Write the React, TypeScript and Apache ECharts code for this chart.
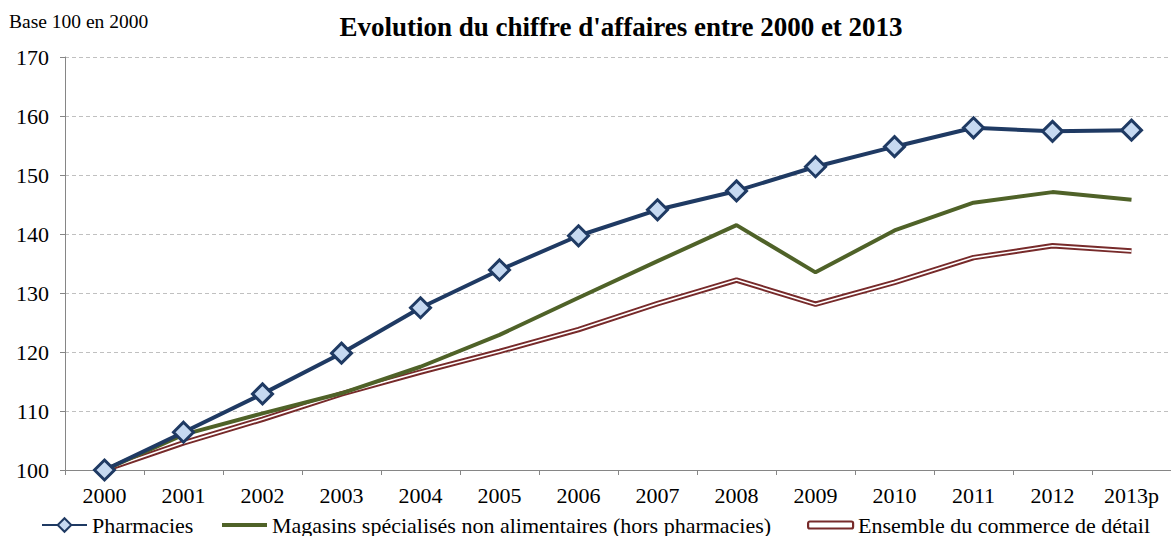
import React, { useEffect, useRef } from "react";
import * as echarts from "echarts";

const years = ["2000", "2001", "2002", "2003", "2004", "2005", "2006", "2007", "2008", "2009", "2010", "2011", "2012", "2013p"];
const pharmacies = [100, 106.4, 112.9, 119.8, 127.5, 133.9, 139.7, 144.1, 147.3, 151.4, 154.8, 158.0, 157.4, 157.6];
const magasins = [100, 106.0, 109.6, 113.0, 117.5, 122.9, 129.2, 135.4, 141.5, 133.5, 140.6, 145.3, 147.1, 145.8];
const ensemble = [100, 104.6, 108.6, 112.9, 116.6, 120.1, 123.8, 128.2, 132.2, 128.1, 131.8, 136.0, 138.0, 137.1];

const seriesNames = [
  "Pharmacies",
  "Magasins spécialisés non alimentaires (hors pharmacies)",
  "Ensemble du commerce de détail",
];
const titleText = "Evolution du chiffre d'affaires entre 2000 et 2013";
const unitText = "Base 100 en 2000";

const SERIF = '"Liberation Serif", "Times New Roman", serif';
const NAVY = "#1f3a63";
const OLIVE = "#4f6228";
const DARKRED = "#772a2a";

export default function App() {
  const ref = useRef<HTMLDivElement>(null);
  useEffect(() => {
    if (!ref.current) return;
    const chart = echarts.init(ref.current, null, { renderer: "svg" });
    const legendText = { fontFamily: SERIF, fontSize: 22, color: "#000" };
    chart.setOption({
      animation: false,
      backgroundColor: "#fff",
      graphic: [
        {
          type: "text",
          x: 9,
          y: 21,
          style: { text: unitText, font: `19.5px ${SERIF}`, fill: "#000", textVerticalAlign: "middle" },
        },
        {
          type: "text",
          x: 621,
          y: 27,
          style: {
            text: titleText,
            font: `bold 27px ${SERIF}`,
            fill: "#000",
            textAlign: "center",
            textVerticalAlign: "middle",
          },
        },
      ],
      grid: { left: 65, right: -6, top: 57, bottom: 66, containLabel: false },
      xAxis: {
        type: "category",
        data: years,
        boundaryGap: true,
        axisLine: { lineStyle: { color: "#868686", width: 1 } },
        axisTick: { show: true, length: 5, lineStyle: { color: "#868686" } },
        axisLabel: { fontFamily: SERIF, fontSize: 22, color: "#000", margin: 14, interval: 0 },
        splitLine: { show: false },
      },
      yAxis: {
        type: "value",
        min: 100,
        max: 170,
        interval: 10,
        axisLine: { show: true, lineStyle: { color: "#868686", width: 1 } },
        axisTick: { show: true, length: 5, lineStyle: { color: "#868686" } },
        axisLabel: { fontFamily: SERIF, fontSize: 22, color: "#000", margin: 16 },
        splitLine: { show: true, lineStyle: { color: "#c0c0c0", type: [4, 3], width: 1 } },
      },
      legend: [
        {
          left: 36,
          top: 509,
          itemWidth: 45,
          itemHeight: 17,
          itemGap: 0,
          textStyle: legendText,
          data: [seriesNames[0]],
        },
        {
          left: 217,
          top: 509,
          itemWidth: 45,
          itemHeight: 4,
          itemGap: 0,
          textStyle: legendText,
          data: [
            {
              name: seriesNames[1],
              icon: "rect",
              itemStyle: { color: OLIVE, borderWidth: 0 },
            },
          ],
        },
        {
          left: 802,
          top: 509,
          itemWidth: 45,
          itemHeight: 7,
          itemGap: 0,
          textStyle: legendText,
          data: [
            {
              name: seriesNames[2],
              icon: "roundRect",
              itemStyle: { color: "#fff", borderColor: DARKRED, borderWidth: 2.2 },
            },
          ],
        },
      ],
      series: [
        {
          name: seriesNames[2],
          type: "line",
          data: ensemble,
          symbol: "none",
          z: 2,
          color: DARKRED,
          lineStyle: { color: DARKRED, width: 5.5 },
        },
        {
          name: "_ensemble_inner",
          type: "line",
          data: ensemble,
          symbol: "none",
          z: 3,
          silent: true,
          lineStyle: { color: "#ffffff", width: 1.6 },
        },
        {
          name: seriesNames[1],
          type: "line",
          data: magasins,
          symbol: "none",
          z: 4,
          color: OLIVE,
          lineStyle: { color: OLIVE, width: 4 },
        },
        {
          name: seriesNames[0],
          type: "line",
          data: pharmacies,
          symbol: "diamond",
          symbolSize: 20,
          z: 5,
          color: NAVY,
          lineStyle: { color: NAVY, width: 4 },
          itemStyle: { color: "#c6d9f1", borderColor: NAVY, borderWidth: 3 },
        },
      ],
    });
    return () => chart.dispose();
  }, []);
  return (
    <div
      ref={ref}
      style={{ position: "fixed", left: 0, top: 0, width: 1171, height: 536, background: "#fff" }}
    />
  );
}
